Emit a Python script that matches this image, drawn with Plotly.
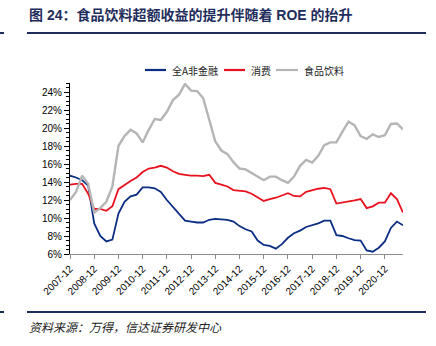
import plotly.graph_objects as go

# Quarter-end labels, 2007-12 through 2021-09
quarters = ["2007-12"] + [f"{y}-{m:02d}" for y in range(2008, 2022) for m in (3, 6, 9, 12)]
quarters = quarters[:56]
year_ticks = [q for q in quarters if q.endswith("-12")]

# ROE (%) per quarter
roe_all_ex_fin = [14.7, 14.5, 14.2, 13.6, 9.4, 8.0, 7.4, 7.6, 10.5, 11.8, 12.4, 12.6,
                  13.4, 13.4, 13.3, 12.9, 12.0, 11.2, 10.5, 9.7, 9.6, 9.5, 9.5, 9.8,
                  9.9, 9.85, 9.8, 9.6, 9.1, 8.75, 8.5, 7.5, 7.0, 6.9, 6.6, 7.1,
                  7.8, 8.3, 8.6, 9.0, 9.2, 9.4, 9.7, 9.7, 8.1, 8.0, 7.75, 7.55,
                  7.5, 6.4, 6.25, 6.7, 7.4, 8.9, 9.6, 9.2]
roe_consumer = [13.7, 13.8, 13.8, 12.7, 11.0, 11.0, 10.8, 11.3, 13.2, 13.7, 14.1, 14.5,
                15.1, 15.5, 15.6, 15.8, 15.6, 15.2, 14.9, 14.8, 14.7, 14.7, 14.65, 14.8,
                13.9, 13.7, 13.5, 13.1, 13.05, 12.95, 12.7, 12.3, 11.9, 12.1, 12.25, 12.5,
                12.75, 12.45, 12.4, 12.9, 13.1, 13.25, 13.35, 13.2, 11.6, 11.7, 11.8, 11.95,
                12.1, 11.1, 11.3, 11.7, 11.7, 12.75, 12.1, 10.6]
roe_food_bev = [12.0, 12.9, 14.7, 13.8, 10.6, 11.1, 11.8, 13.5, 18.0, 19.1, 19.8, 19.4,
                18.4, 19.8, 21.0, 20.9, 21.8, 23.1, 23.7, 24.9, 24.15, 24.1, 23.3, 20.8,
                18.5, 17.5, 17.1, 16.2, 15.5, 15.4, 15.0, 14.6, 14.2, 14.6, 14.6, 14.2,
                13.9, 14.6, 15.8, 16.45, 16.15, 16.9, 18.1, 18.4, 18.4, 19.6, 20.7, 20.3,
                19.1, 18.8, 19.3, 19.0, 19.2, 20.45, 20.5, 19.85]

series_names = ["全A非金融", "消费", "食品饮料"]
series_colors = ["#0b2d83", "#e8121f", "#b5b5b5"]
series_values = [roe_all_ex_fin, roe_consumer, roe_food_bev]

y_ticks = list(range(6, 25, 2))

W, H = 436, 346
L, R, T, B = 70, 33, 83, 92
PW, PH = W - L - R, H - T - B


def px(x):
    return (x - L) / PW


def py(y):
    return (H - B - y) / PH


fig = go.Figure()
for name, color, vals in zip(series_names, series_colors, series_values):
    fig.add_trace(go.Scatter(x=quarters, y=vals, mode="lines", name=name,
                             line=dict(color=color, width=2.4 if color == "#b5b5b5" else 1.8)))

tick_font = dict(family="Liberation Sans, Arial, sans-serif", size=10, color="#000")

fig.update_xaxes(type="category", range=[0, len(quarters) - 1],
                 tickvals=year_ticks, ticktext=year_ticks, tickangle=-45,
                 ticks="outside", ticklen=4, tickcolor="#8c8c8c",
                 showline=True, linecolor="#8c8c8c", linewidth=1,
                 showgrid=False, zeroline=False, tickfont=tick_font)
fig.update_yaxes(range=[6, 25], tickvals=y_ticks, ticktext=[f"{v}%" for v in y_ticks],
                 ticks="outside", ticklen=5, tickcolor="#000",
                 minor=dict(ticks="outside", ticklen=3, dtick=0.5, tick0=6, tickcolor="#000"),
                 showline=True, linecolor="#000", linewidth=1,
                 showgrid=False, zeroline=False, tickfont=tick_font)

shapes = []
annotations = []
legend_items = [(145, 166, 170), (224, 245, 249), (276, 298, 302)]
for (x0, x1, xt), name, color in zip(legend_items, series_names, series_colors):
    shapes.append(dict(type="line", xref="paper", yref="paper", x0=px(x0), x1=px(x1),
                       y0=py(70), y1=py(70), line=dict(color=color, width=2.2)))
    annotations.append(dict(xref="paper", yref="paper", x=px(xt), y=py(70), text=name,
                            showarrow=False, xanchor="left", yanchor="middle",
                            font=dict(family="Noto Sans CJK SC", size=10, color="#222")))

# header / footer rules
for yy in (33, 312):
    shapes.append(dict(type="line", xref="paper", yref="paper", x0=px(27), x1=px(426),
                       y0=py(yy), y1=py(yy), line=dict(color="#1f2d5c", width=2)))
    shapes.append(dict(type="line", xref="paper", yref="paper", x0=px(0), x1=px(4),
                       y0=py(yy), y1=py(yy), line=dict(color="#1f2d5c", width=2)))

annotations.append(dict(xref="paper", yref="paper", x=px(27), y=py(15),
                        text="<b>图 24：食品饮料超额收益的提升伴随着 ROE 的抬升</b>",
                        showarrow=False, xanchor="left", yanchor="middle",
                        font=dict(family="Liberation Sans, Noto Sans CJK SC", size=14,
                                  color="#1f2d5c")))
annotations.append(dict(xref="paper", yref="paper", x=px(27), y=py(326),
                        text="<i>资料来源：万得，信达证券研发中心</i>",
                        showarrow=False, xanchor="left", yanchor="middle",
                        font=dict(family="Noto Sans CJK SC", size=12, color="#222")))

fig.update_layout(width=W, height=H, margin=dict(l=L, r=R, t=T, b=B),
                  paper_bgcolor="white", plot_bgcolor="white", showlegend=False,
                  shapes=shapes, annotations=annotations)

fig.write_html("out.html")
